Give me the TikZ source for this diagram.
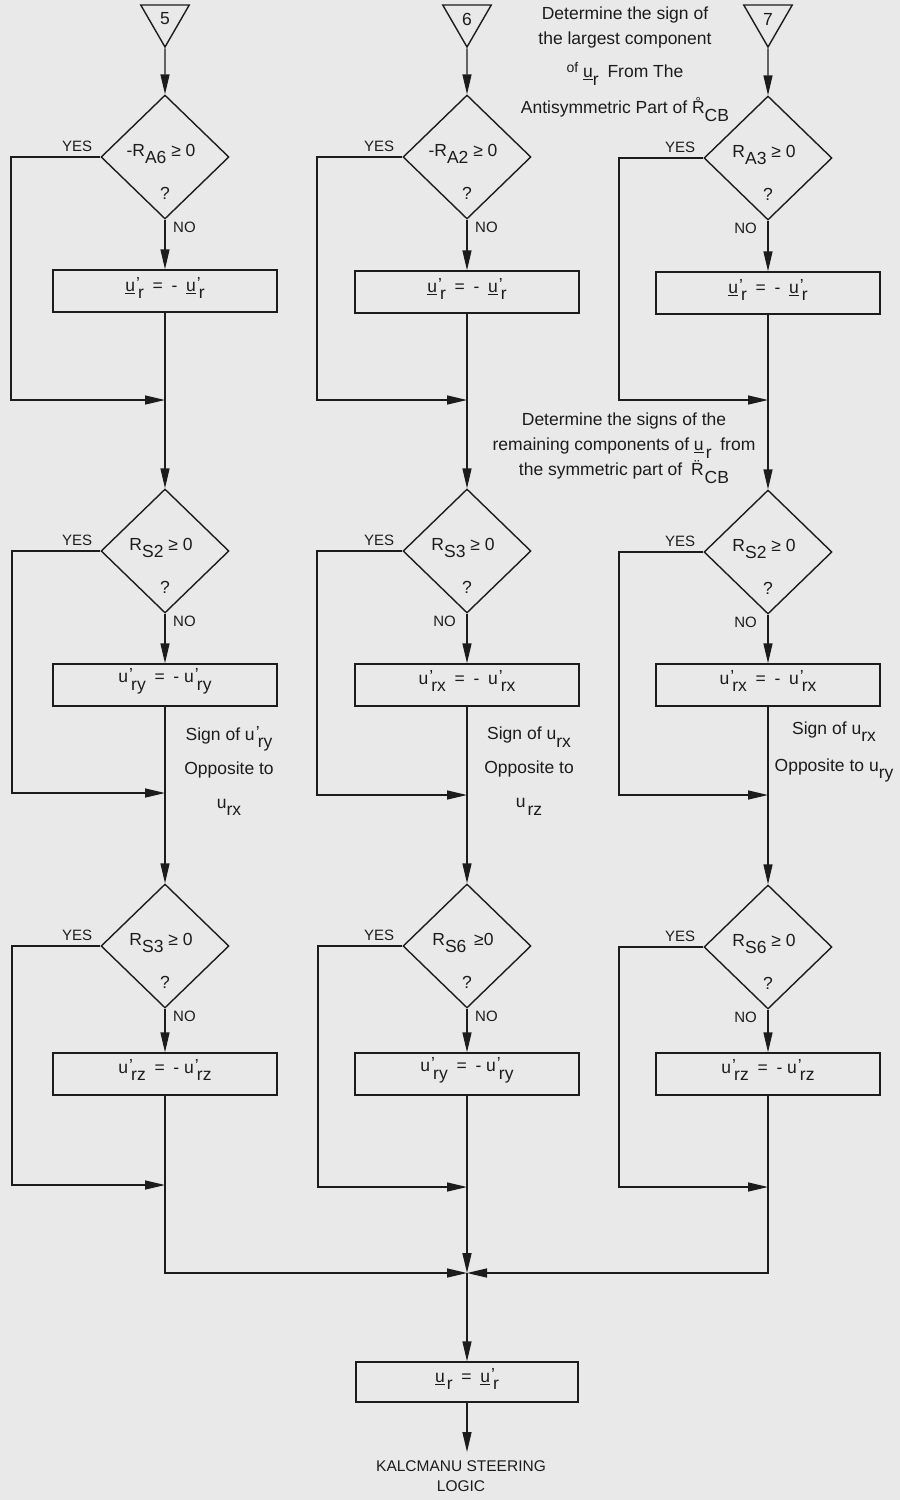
\documentclass[tikz,border=0pt]{standalone}
\usepackage{fontspec}
\setmainfont{Liberation Sans}
\usetikzlibrary{shapes.geometric,arrows.meta,calc}

\definecolor{ink}{RGB}{28,28,28}
\definecolor{paper}{RGB}{233,233,233}

% lowered subscript, primed variable, accented R
\newcommand{\sbx}[1]{\raisebox{-0.8ex}{#1}}
\newcommand{\pru}[2]{#1\kern1pt\rlap{\raisebox{0.25ex}{'}}\kern2pt\sbx{#2}}
\newcommand{\ringR}{\rlap{\smash{\kern3.6pt\raisebox{7.2pt}{\fontsize{13}{13}\selectfont °}}}R}
\newcommand{\ddotR}{\rlap{\smash{\kern3.4pt\raisebox{4.4pt}{\fontsize{16}{16}\selectfont ¨}}}R}

\tikzset{
  wire/.style={line width=1.4pt, draw=ink},
  arr/.style={wire, -{Triangle[length=20pt,width=9pt]}},
  dec/.style={diamond, draw=ink, line width=1.4pt, minimum width=128pt,
              minimum height=124pt, inner sep=0pt},
  opbox/.style={rectangle, draw=ink, line width=1.4pt, minimum width=224pt,
                minimum height=42pt, inner sep=0pt},
  conn/.style={regular polygon, regular polygon sides=3, shape border rotate=180,
               draw=ink, line width=1.4pt, minimum size=56pt, inner sep=0pt},
  lbl/.style={font=\fontsize{15}{18}\selectfont, text=ink, inner sep=0pt},
  txt/.style={font=\fontsize{17.5}{21}\selectfont, text=ink, inner sep=0pt},
}

\begin{document}
\begin{tikzpicture}[x=1pt,y=-1pt]
\fill[paper] (0,0) rectangle (900,1500);
\useasboundingbox (0,0) rectangle (900,1500);

% ---------------- connectors (entry points) ----------------
\node[conn, txt] (t5) at (165,19) {5};
\node[conn, txt] (t6) at (467,19) {6};
\node[conn, txt] (t7) at (768,19) {7};

% ---------------- decisions ----------------
\node[dec] (d1a) at (165,157) {};
\node[dec] (d2a) at (467,157) {};
\node[dec] (d3a) at (768,158) {};
\node[dec] (d1b) at (165,551) {};
\node[dec] (d2b) at (467,551) {};
\node[dec] (d3b) at (768,552) {};
\node[dec] (d1c) at (165,946) {};
\node[dec] (d2c) at (467,946) {};
\node[dec] (d3c) at (768,947) {};

\foreach \d/\t in {d1a/{-R\sbx{A6} ≥ 0}, d2a/{-R\sbx{A2} ≥ 0}, d3a/{R\sbx{A3} ≥ 0},
                   d1b/{R\sbx{S2} ≥ 0}, d2b/{R\sbx{S3} ≥ 0}, d3b/{R\sbx{S2} ≥ 0},
                   d1c/{R\sbx{S3} ≥ 0}, d2c/{R\sbx{S6} \,≥0}, d3c/{R\sbx{S6} ≥ 0}} {
  \node[txt, anchor=base] (\d q) at ($(\d.center)+(-4,-1)$) {\t};
  \node[txt] (\d m) at ($(\d.center)+(0,36)$) {?};
}

% ---------------- operations ----------------
\node[opbox] (b1a) at (165,291) {};
\node[opbox] (b2a) at (467,292) {};
\node[opbox] (b3a) at (768,293) {};
\node[opbox] (b1b) at (165,685) {};
\node[opbox] (b2b) at (467,685) {};
\node[opbox] (b3b) at (768,685) {};
\node[opbox] (b1c) at (165,1074) {};
\node[opbox] (b2c) at (467,1074) {};
\node[opbox] (b3c) at (768,1074) {};
\node[opbox, minimum width=222pt, minimum height=40pt] (fin) at (467,1382) {};

\foreach \b in {b1a,b2a,b3a} {
  \node[txt] (\b t) at ($(\b.center)+(0,-3)$)
    {\pru{\underline{u}}{r}\enskip=\enskip-\enskip\pru{\underline{u}}{r}};
}
\node[txt] (b1bt) at ($(b1b.center)+(0,-4)$) {\pru{u}{ry}\enskip=\enskip- \pru{u}{ry}};
\node[txt] (b2bt) at ($(b2b.center)+(0,-4)$) {\pru{u}{rx}\enskip=\enskip-\enskip\pru{u}{rx}};
\node[txt] (b3bt) at ($(b3b.center)+(0,-4)$) {\pru{u}{rx}\enskip=\enskip-\enskip\pru{u}{rx}};
\node[txt] (b1ct) at ($(b1c.center)+(0,-4)$) {\pru{u}{rz}\enskip=\enskip- \pru{u}{rz}};
\node[txt] (b2ct) at ($(b2c.center)+(0,-4)$) {\pru{u}{ry}\enskip=\enskip- \pru{u}{ry}};
\node[txt] (b3ct) at ($(b3c.center)+(0,-4)$) {\pru{u}{rz}\enskip=\enskip- \pru{u}{rz}};
\node[txt] (fint) at ($(fin.center)+(0,-3)$)
  {\underline{u}\kern2pt\sbx{r}\enskip=\enskip\pru{\underline{u}}{r}};

% ---------------- YES / NO labels ----------------
\foreach \d in {d1a,d2a,d3a,d1b,d2b,d3b,d1c,d2c,d3c} {
  \node[lbl, anchor=south east] (\d y) at ($(\d.west)+(-8,-5)$) {YES};
}
\foreach \d in {d1a,d2a,d1b,d1c,d2c} {
  \node[lbl, anchor=north west] (\d n) at ($(\d.south)+(8,2)$) {NO};
}
\foreach \d in {d3a,d2b,d3b,d3c} {
  \node[lbl, anchor=north east] (\d n) at ($(\d.south)+(-11,2)$) {NO};
}

% ---------------- notes ----------------
\node[txt, align=center, anchor=north] (note1) at (625,7)
  {Determine the sign of\\[4pt]the largest component\\[12pt]%
   \raisebox{0.6ex}{\fontsize{14}{16}\selectfont of} \underline{u}\sbx{r}\enskip From The\\[15pt]%
   Antisymmetric Part of \ringR\sbx{CB}};
\node[txt, align=center, anchor=north] (note2) at (624,413)
  {Determine the signs of the\\[4pt]remaining components of \underline{u}\kern2pt\sbx{r}\enskip from\\[4pt]%
   the symmetric part of\enskip\ddotR\kern1pt\sbx{CB}};
\node[txt, align=center, font=\fontsize{17.5}{34}\selectfont] (note3) at (229,771)
  {Sign of \pru{u}{ry}\\Opposite to\\u\sbx{rx}};
\node[txt, align=center, font=\fontsize{17.5}{34}\selectfont] (note4) at (529,771)
  {Sign of u\sbx{rx}\\Opposite to\\u\kern2pt\sbx{rz}};
\node[txt, align=center, font=\fontsize{17.5}{37}\selectfont] (note5) at (834,752)
  {Sign of u\sbx{rx}\\Opposite to u\sbx{ry}};
\node[txt, align=center, font=\fontsize{15.5}{20}\selectfont, anchor=north] (out) at (461,1460)
  {KALCMANU STEERING\\LOGIC};

% ---------------- routing points ----------------
\coordinate (m1a) at (165,400);  \coordinate (m2a) at (467,400);  \coordinate (m3a) at (768,400);
\coordinate (m1b) at (165,793);  \coordinate (m2b) at (467,795);  \coordinate (m3b) at (768,795);
\coordinate (m1c) at (165,1185); \coordinate (m2c) at (467,1187); \coordinate (m3c) at (768,1187);
\coordinate (y1a) at (11,157);   \coordinate (y2a) at (317,157);  \coordinate (y3a) at (619,158);
\coordinate (y1b) at (12,551);   \coordinate (y2b) at (317,551);  \coordinate (y3b) at (619,552);
\coordinate (y1c) at (12,946);   \coordinate (y2c) at (318,946);  \coordinate (y3c) at (619,947);
\coordinate (mb) at (467,1273);

% ---------------- flow lines ----------------
\foreach \c/\x in {1/t5,2/t6,3/t7} {
  \draw[arr] (\x.south) -- (d\c a.north);
}
\foreach \c in {1,2,3} {
  % decision -> NO branch -> operation
  \draw[arr] (d\c a.south) -- (b\c a.north);
  \draw[arr] (d\c b.south) -- (b\c b.north);
  \draw[arr] (d\c c.south) -- (b\c c.north);
  % YES branches bypass the operation
  \draw[arr] (d\c a.west) -- (y\c a) |- (m\c a);
  \draw[arr] (d\c b.west) -- (y\c b) |- (m\c b);
  \draw[arr] (d\c c.west) -- (y\c c) |- (m\c c);
  % operation -> next decision
  \draw[wire] (b\c a.south) -- (m\c a);
  \draw[arr] (m\c a) -- (d\c b.north);
  \draw[wire] (b\c b.south) -- (m\c b);
  \draw[arr] (m\c b) -- (d\c c.north);
  \draw[wire] (b\c c.south) -- (m\c c);
}
% merge of the three columns
\draw[arr] (m1c) |- (mb);
\draw[arr] (m2c) -- (mb);
\draw[arr] (m3c) |- (mb);
\draw[arr] (mb) -- (fin.north);
\draw[arr, shorten >=8pt] (fin.south) -- (fin.south |- out.north);
\end{tikzpicture}
\end{document}
